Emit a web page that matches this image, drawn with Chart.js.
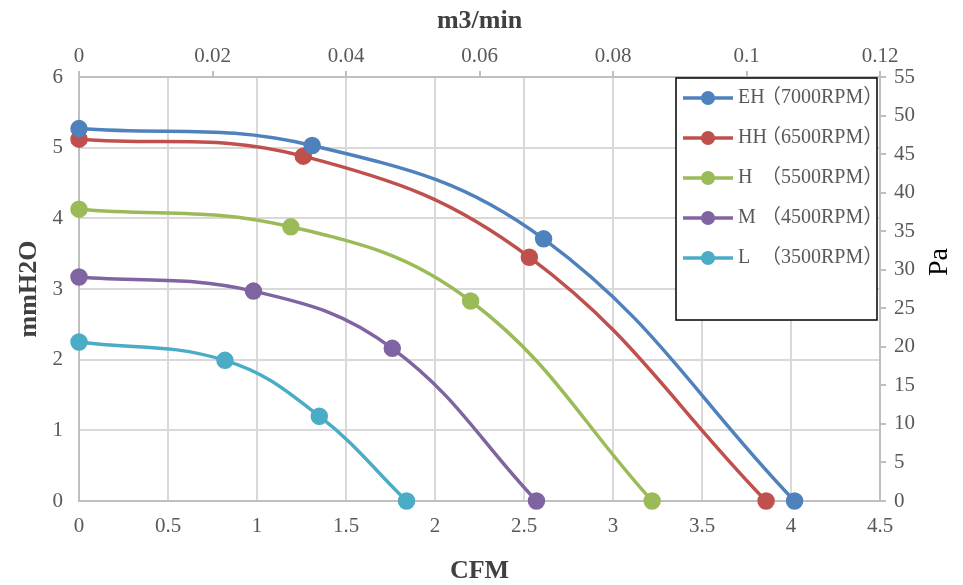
<!DOCTYPE html>
<html>
<head>
<meta charset="utf-8">
<script src="https://cdn.jsdelivr.net/npm/chart.js@4.4.1/dist/chart.umd.min.js"></script>
<style>
  html, body { margin: 0; padding: 0; background: #fff; }
  #wrap { width: 963px; height: 585px; }
</style>
</head>
<body>
<div id="wrap"><canvas id="fanChart" width="963" height="585"></canvas></div>
<script>
'use strict';

// ===== DATA =====
const SERIES_NAMES = ['EH', 'HH', 'H', 'M', 'L'];
const SERIES_RPM = ['（7000RPM）', '（6500RPM）', '（5500RPM）', '（4500RPM）', '（3500RPM）'];
const SERIES_COLORS = ['#4f81bd', '#c0504d', '#9bbb59', '#8064a2', '#4bacc6'];

// airflow (CFM) and static pressure (mmH2O) per fan speed
const EH_CFM = [0, 1.31, 2.61, 4.02];
const EH_MMH2O = [5.27, 5.03, 3.71, 0];
const HH_CFM = [0, 1.26, 2.53, 3.86];
const HH_MMH2O = [5.12, 4.88, 3.45, 0];
const H_CFM = [0, 1.19, 2.20, 3.22];
const H_MMH2O = [4.13, 3.88, 2.83, 0];
const M_CFM = [0, 0.98, 1.76, 2.57];
const M_MMH2O = [3.17, 2.97, 2.16, 0];
const L_CFM = [0, 0.82, 1.35, 1.84];
const L_MMH2O = [2.25, 1.99, 1.20, 0];

// axis ranges / tick steps
const CFM_RANGE = [0, 4.5, 0.5];
const M3MIN_RANGE = [0, 0.12, 0.02];
const MMH2O_RANGE = [0, 6, 1];
const PA_RANGE = [0, 55, 5];

const ALL_CFM = [EH_CFM, HH_CFM, H_CFM, M_CFM, L_CFM];
const ALL_MMH2O = [EH_MMH2O, HH_MMH2O, H_MMH2O, M_MMH2O, L_MMH2O];

// ===== CHART =====
const SERIF = "'Liberation Serif', 'DejaVu Serif', serif";
const TICK_FONT = { family: SERIF, size: 21 };
const TITLE_FONT = { family: SERIF, size: 26, weight: 'bold' };
const tickColor = '#595959';
const gridColor = '#d9d9d9';
const axisColor = '#bfbfbf';

const fmt = v => String(Number(v.toFixed(3)));

function makeDatasets() {
  return SERIES_NAMES.map((name, i) => ({
    label: name + SERIES_RPM[i],
    data: ALL_CFM[i].map((x, k) => ({ x, y: ALL_MMH2O[i][k] })),
    borderColor: SERIES_COLORS[i],
    backgroundColor: SERIES_COLORS[i],
    borderWidth: 3.5,
    pointRadius: 7,
    pointHoverRadius: 7,
    tension: 0.4,
    xAxisID: 'x',
    yAxisID: 'y',
    clip: false
  }));
}

// legend box drawn inside the plot area (top right)
const boxLegend = {
  id: 'boxLegend',
  afterDatasetsDraw(chart) {
    const ctx = chart.ctx;
    const bx = 676, by = 78, bw = 201, bh = 242;
    ctx.save();
    ctx.fillStyle = '#fff';
    ctx.fillRect(bx, by, bw, bh);
    ctx.strokeStyle = '#000';
    ctx.lineWidth = 1.5;
    ctx.strokeRect(bx, by, bw, bh);
    ctx.font = "20px 'Liberation Serif', 'Noto Sans CJK SC', serif";
    ctx.textBaseline = 'middle';
    chart.data.datasets.forEach((ds, i) => {
      const y = by + 20 + i * 40;
      ctx.strokeStyle = ds.borderColor;
      ctx.lineWidth = 3.5;
      ctx.beginPath();
      ctx.moveTo(683, y);
      ctx.lineTo(733, y);
      ctx.stroke();
      ctx.fillStyle = ds.borderColor;
      ctx.beginPath();
      ctx.arc(708, y, 7, 0, Math.PI * 2);
      ctx.fill();
      ctx.fillStyle = tickColor;
      ctx.fillText(SERIES_NAMES[i], 738, y);
      ctx.fillText(SERIES_RPM[i], 761, y);
    });
    ctx.restore();
  }
};

// right axis title reads bottom-to-top like the left one
const rightTitle = {
  id: 'rightTitle',
  afterDraw(chart) {
    const ctx = chart.ctx;
    ctx.save();
    ctx.translate(940, 262);
    ctx.rotate(-Math.PI / 2);
    ctx.font = "28px 'Liberation Serif', serif";
    ctx.fillStyle = '#000';
    ctx.textAlign = 'center';
    ctx.textBaseline = 'middle';
    ctx.fillText('Pa', 0, 0);
    ctx.restore();
  }
};

new Chart(document.getElementById('fanChart'), {
  type: 'scatter',
  data: { datasets: makeDatasets() },
  plugins: [boxLegend, rightTitle],
  options: {
    responsive: false,
    animation: false,
    showLine: true,
    layout: { padding: 0 },
    plugins: { legend: { display: false }, tooltip: { enabled: false } },
    scales: {
      x: {
        type: 'linear', position: 'bottom',
        min: CFM_RANGE[0], max: CFM_RANGE[1],
        ticks: { stepSize: CFM_RANGE[2], color: tickColor, font: TICK_FONT, padding: 13, callback: fmt, maxRotation: 0 },
        grid: { color: gridColor, lineWidth: 2, drawTicks: false },
        border: { color: axisColor, width: 2 },
        title: { display: true, text: 'CFM', color: '#404040', font: { ...TITLE_FONT, lineHeight: 1 }, padding: { top: 14, bottom: 1 } },
        afterFit: s => { s.height = 84; }
      },
      x2: {
        type: 'linear', position: 'top',
        min: M3MIN_RANGE[0], max: M3MIN_RANGE[1],
        ticks: { stepSize: M3MIN_RANGE[2], color: tickColor, font: TICK_FONT, padding: 2, callback: fmt, maxRotation: 0 },
        grid: { drawOnChartArea: false, color: axisColor, lineWidth: 2, tickLength: 6 },
        border: { color: axisColor, width: 2 },
        title: { display: true, text: 'm3/min', color: '#404040', font: TITLE_FONT, padding: { top: 6, bottom: 2 } },
        afterFit: s => { s.height = 77; }
      },
      y: {
        type: 'linear', position: 'left',
        min: MMH2O_RANGE[0], max: MMH2O_RANGE[1],
        ticks: { stepSize: MMH2O_RANGE[2], color: tickColor, font: TICK_FONT, padding: 16, callback: fmt },
        grid: { color: gridColor, lineWidth: 2, drawTicks: false },
        border: { color: axisColor, width: 2 },
        title: { display: true, text: 'mmH2O', color: '#404040', font: TITLE_FONT, padding: { top: 14, bottom: 0 } },
        afterFit: s => { s.width = 79; }
      },
      y2: {
        type: 'linear', position: 'right',
        min: PA_RANGE[0], max: PA_RANGE[1],
        ticks: { stepSize: PA_RANGE[2], color: tickColor, font: TICK_FONT, padding: 8, callback: fmt },
        grid: { drawOnChartArea: false, color: axisColor, lineWidth: 2, tickLength: 6 },
        border: { color: axisColor, width: 2 },
        afterFit: s => { s.width = 83; }
      }
    }
  }
});
</script>
</body>
</html>
